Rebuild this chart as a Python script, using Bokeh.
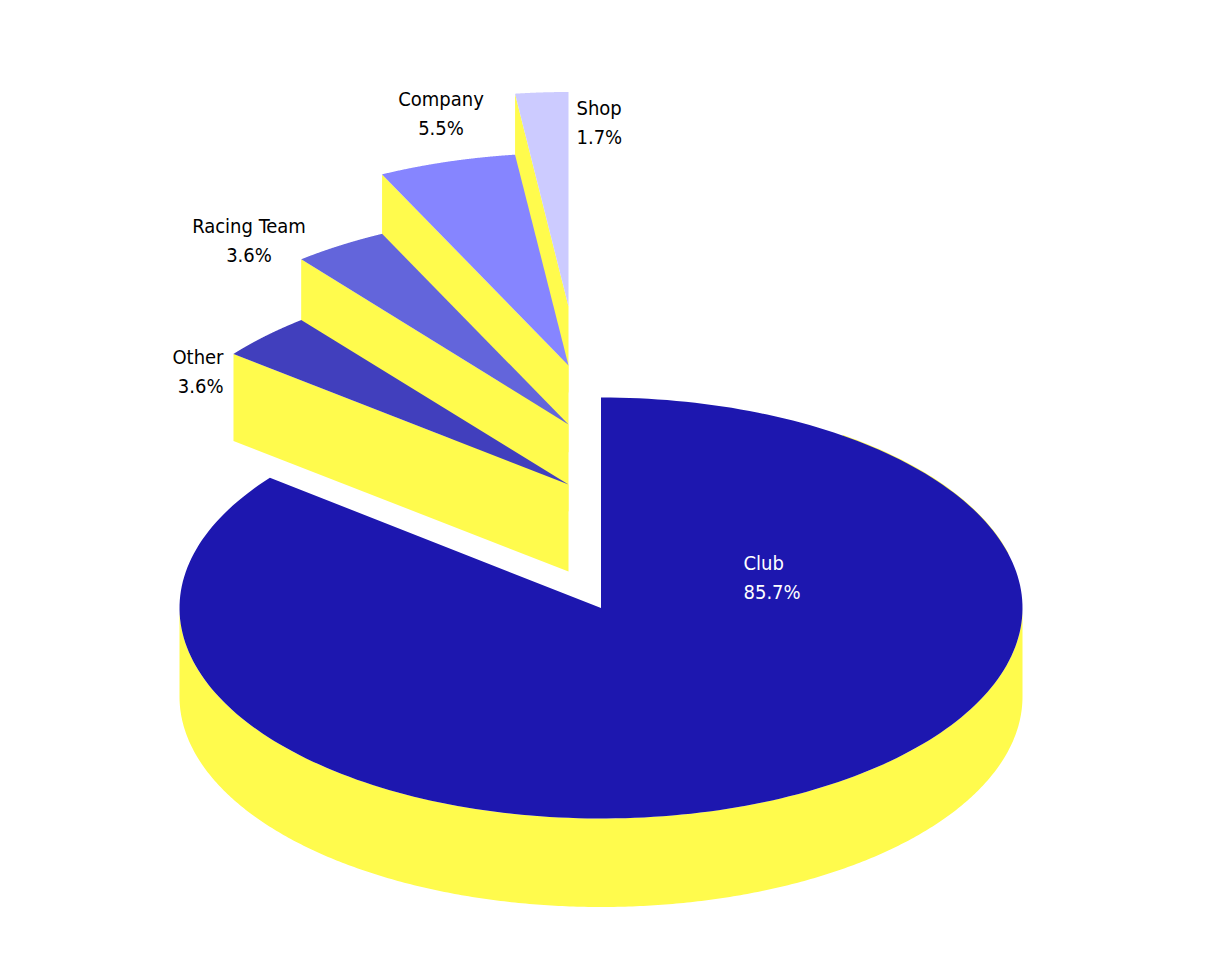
import numpy as np
from bokeh.plotting import figure
from bokeh.models import Range1d
from bokeh.core.properties import value
from bokeh.embed import file_html
from bokeh.resources import INLINE

# data, in clockwise order from twelve o'clock
categories = ["Club", "Other", "Racing Team", "Company", "Shop"]
shares = [85.62, 3.6, 3.58, 5.2, 2.0]
share_labels = ["85.7%", "3.6%", "3.6%", "5.5%", "1.7%"]
colors = ["#1D17AF", "#413FBD", "#6365DB", "#8685FF", "#CCCBFF"]
side_color = "#FFFB4D"

# layout, in page pixels
centers = {"Club": (600.5, 607.5), "Other": (568, 484), "Racing Team": (568, 424),
           "Company": (568, 365), "Shop": (568, 306)}
radii = {"Club": (421.5, 210.5), "Other": (426.5, 211), "Racing Team": (426.5, 212),
         "Company": (426.5, 212.5), "Shop": (426.5, 214.5)}
CLUB_DEPTH = 88.5
SLICE_DEPTH = 87
label_pos = {"Club": (743, 562, "left"), "Other": (223, 356, "right"),
             "Racing Team": (248.5, 225, "center"), "Company": (440.5, 98, "center"),
             "Shop": (576, 107, "left")}
LINE_GAP = 29

p = figure(width=1190, height=944, output_backend="svg", toolbar_location=None,
           x_range=Range1d(0, 1190), y_range=Range1d(944, 0), min_border=0,
           background_fill_color="white", border_fill_color="white", outline_line_color=None)
p.axis.visible = False
p.grid.visible = False

edges = np.cumsum([0.0] + shares) / sum(shares) * 2 * np.pi
arcs = {}
for name, a0, a1 in zip(categories, edges[:-1], edges[1:]):
    arcs[name] = np.linspace(a0, a1, 240)


def rim(name, t):
    cx, cy = centers[name]
    rx, ry = radii[name]
    return cx + rx * np.sin(t), cy - ry * np.cos(t)


# Club: the thin rim that peeks out at the upper right, curved front wall, then its top
t = np.radians(np.linspace(35, 75, 80))
xs, ys = rim("Club", t)
p.patch(np.r_[xs, xs[::-1]], np.r_[ys - 0.7, ys[::-1] + 2], fill_color=side_color, line_color=None)
t = np.linspace(np.pi * 0.5, np.pi * 1.5, 360)
xs, ys = rim("Club", t)
p.patch(np.r_[xs, xs[::-1]], np.r_[ys, ys[::-1] + CLUB_DEPTH], fill_color=side_color, line_color=None)
xs, ys = rim("Club", arcs["Club"])
cx, cy = centers["Club"]
p.patch(np.r_[cx, xs], np.r_[cy, ys], fill_color=colors[0], line_color=None)

# the four lifted slices, stacked from the back to the front
for name in ["Shop", "Company", "Racing Team", "Other"]:
    cx, cy = centers[name]
    color = colors[categories.index(name)]
    xs, ys = rim(name, arcs[name])
    p.patch([xs[0], cx, cx, xs[0]], [ys[0], cy, cy + SLICE_DEPTH, ys[0] + SLICE_DEPTH],
            fill_color=side_color, line_color=None)
    p.patch(np.r_[cx, xs], np.r_[cy, ys], fill_color=color, line_color=None)

# labels
for name, pct in zip(categories, share_labels):
    x, y, align = label_pos[name]
    col = "white" if name == "Club" else "black"
    p.text([x, x], [y, y + LINE_GAP], text=[name, pct], text_color=col,
           text_font=value("DejaVu Sans Condensed"), text_font_size="20px",
           text_align=align, text_baseline="middle")

open("out.html", "w").write(file_html(p, INLINE))
